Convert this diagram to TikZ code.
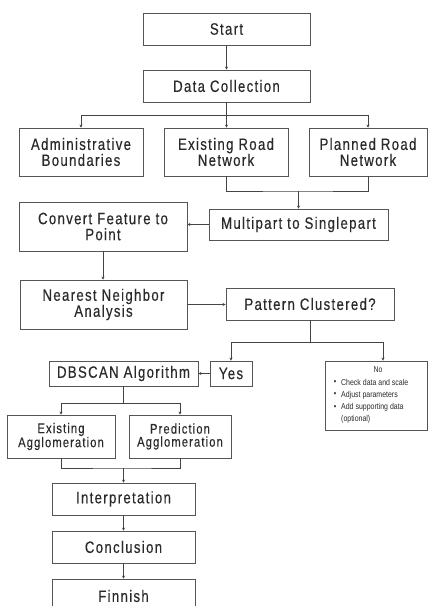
\documentclass[tikz,border=0pt]{standalone}
\usepackage{fontspec}
\setmainfont{Liberation Sans}
\newfontfamily\boxfont[FakeStretch=0.8,LetterSpace=8,FakeBold=0.3]{Liberation Sans}
\newfontfamily\notefont[FakeStretch=0.82]{Liberation Sans}
\usetikzlibrary{arrows.meta}
\definecolor{boxc}{HTML}{555555}
\definecolor{txtc}{HTML}{2A2A2A}
\definecolor{linec}{HTML}{444444}
\newcommand\bx[7][]{\node[box,minimum width=#5pt,minimum height=#6pt,#1] (#2) at (#3,#4) {#7};}
\begin{document}
\begin{tikzpicture}[x=1pt,y=-1pt,
  box/.style={draw=boxc, line width=0.9pt, fill=white, text=txtc,
    font=\boxfont\fontsize{16.5}{16}\selectfont, align=center, inner sep=0pt},
  smallbox/.style={font=\boxfont\fontsize{14}{13}\selectfont},
  notetxt/.style={text=txtc, font=\notefont\fontsize{8.5}{10}\selectfont, inner sep=0pt},
  conn/.style={draw=linec, line width=0.8pt},
  arr/.style={conn, -{Stealth[length=3pt,width=3.2pt]}}]
\clip (0,0) rectangle (428,606);
\fill[white] (0,0) rectangle (428,606);
% boxes
\bx{start}{226.5}{29}{167}{32}{Start}
\bx{dc}{226.5}{86}{167}{32}{Data Collection}
\bx{admin}{81}{152}{124}{48}{Administrative\\Boundaries}
\bx{exist}{226}{152}{124}{48}{Existing Road\\Network}
\bx{plan}{368}{152}{118}{48}{Planned Road\\Network}
\bx{conv}{103}{226.5}{168}{49}{Convert Feature to\\Point}
\bx{multi}{298.5}{224.5}{179}{31}{Multipart to Singlepart}
\bx{near}{103.5}{304.5}{167}{49}{Nearest Neighbor\\Analysis}
\bx{pat}{310}{304}{168}{32}{Pattern Clustered?}
\bx{yes}{231}{373.5}{42}{25}{Yes}
\bx{dbscan}{123.5}{373.5}{149}{25}{DBSCAN Algorithm}
\bx{no}{376}{395.5}{102}{69}{}
\bx[smallbox]{eagg}{61}{436.5}{108}{43}{Existing\\Agglomeration}
\bx[smallbox]{pagg}{180}{436.5}{102}{43}{Prediction\\Agglomeration}
\bx{interp}{123.5}{499}{143}{32}{Interpretation}
\bx{concl}{123.5}{547}{143}{32}{Conclusion}
\bx{fin}{123.5}{596}{143}{34}{Finnish}
% No box content
\node[notetxt] (nohd) at (378,370) {No};
\node[notetxt] (bu1) at (335,382.7) {\textbullet};
\node[notetxt] (bu2) at (335,395) {\textbullet};
\node[notetxt] (bu3) at (335,407.3) {\textbullet};
\node[notetxt,anchor=west] (t1) at (341,382.7) {Check data and scale};
\node[notetxt,anchor=west] (t2) at (341,395) {Adjust parameters};
\node[notetxt,anchor=west] (t3) at (341,407.3) {Add supporting data};
\node[notetxt,anchor=west] (t4) at (341,419.6) {(optional)};
% connectors
\draw[arr] (start) -- (dc);
\draw[arr] (dc.south) -- ++(0,13) -| (admin.north);
\draw[arr] (dc.south) -- (dc.south |- exist.north);
\draw[arr] (dc.south) -- ++(0,13) -| (plan.north);
\coordinate (m1) at (298.5,191);
\draw[conn] (exist.south) |- (m1) -| (plan.south);
\draw[arr] (m1) -- (multi.north);
\draw[arr] (multi.west) -- (multi.west -| conv.east);
\draw[arr] (conv.south) -- (conv.south |- near.north);
\draw[arr] (near.east) -- (near.east -| pat.west);
\coordinate (pb) at (310,342);
\draw[conn] (pat.south) -- (pb);
\draw[arr] (pb) -| (yes.north);
\draw[arr] (pb) -| ([xshift=7pt]no.north);
\draw[arr] (yes.west) -- (yes.west -| dbscan.east);
\draw[arr] (dbscan.south) -- ++(0,17) -| (eagg.north);
\draw[arr] (dbscan.south) -- ++(0,17) -| (pagg.north);
\coordinate (m2) at (123.5,468);
\draw[conn] (eagg.south) |- (m2) -| (pagg.south);
\draw[arr] (m2) -- (interp.north);
\draw[arr] (interp) -- (concl);
\draw[arr] (concl) -- (fin);
\end{tikzpicture}
\end{document}
